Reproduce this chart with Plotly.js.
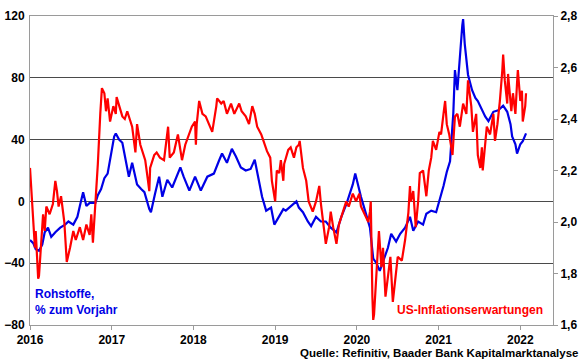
<!DOCTYPE html>
<html>
<head>
<meta charset="utf-8">
<script src="https://cdn.plot.ly/plotly-3.0.1.min.js"></script>
<style>
html,body{margin:0;padding:0;background:#fff;}
#chart{width:580px;height:359px;}
</style>
</head>
<body>
<div id="chart"></div>
<script>
// Rohstoffe, % zum Vorjahr (left axis) — x in decimal years
const rohX = [2016.00,2016.04,2016.07,2016.11,2016.15,2016.18,2016.22,2016.26,2016.31,2016.37,2016.43,2016.47,2016.53,2016.58,2016.61,2016.65,2016.69,2016.73,2016.80,2016.83,2016.87,2016.91,2016.95,2016.99,2017.03,2017.05,2017.09,2017.13,2017.16,2017.21,2017.25,2017.31,2017.36,2017.40,2017.46,2017.48,2017.53,2017.58,2017.62,2017.68,2017.74,2017.79,2017.84,2017.88,2017.95,2018.02,2018.09,2018.17,2018.25,2018.31,2018.35,2018.41,2018.47,2018.52,2018.58,2018.64,2018.70,2018.75,2018.80,2018.84,2018.89,2018.95,2018.99,2019.05,2019.10,2019.13,2019.19,2019.26,2019.29,2019.34,2019.40,2019.44,2019.50,2019.56,2019.62,2019.68,2019.75,2019.81,2019.87,2019.90,2019.95,2019.98,2020.01,2020.05,2020.10,2020.16,2020.20,2020.24,2020.28,2020.32,2020.38,2020.42,2020.48,2020.53,2020.59,2020.65,2020.69,2020.75,2020.81,2020.85,2020.91,2020.97,2021.02,2021.06,2021.10,2021.14,2021.18,2021.20,2021.23,2021.24,2021.26,2021.29,2021.30,2021.32,2021.36,2021.41,2021.45,2021.48,2021.53,2021.57,2021.61,2021.67,2021.73,2021.79,2021.84,2021.88,2021.90,2021.94,2021.96,2022.00,2022.03,2022.07];
const rohY = [-25,-27,-31,-32,-28,-20,-17,-23,-20,-17,-15,-13,-15,-10,-3,6,-3,-1,-1,4,8,15,18,30,42,44,40,38,29,16,25,11,8,6,-5,-7,5,16,3,14,9,15,22,16,7,16,7,16,18,26,31,25,34,29,22,20,21,27,13,3,-6,-4,-15,-10,-5,-6,-3,0,-4,-7,-13,-16,-10,-13,-13,-17,-20,-10,-2,3,11,18,11,3,-6,-17,-37,-40,-45,-39,-30,-21,-26,-21,-17,-10,-19,-13,-15,-8,-6,-7,2,10,19,26,57,85,72,78,93,114,118,102,82,72,67,65,59,55,52,58,59,62,58,50,42,37,31,37,39,44];

// US-Inflationserwartungen (right axis)
const infX = [2016.00,2016.02,2016.04,2016.06,2016.07,2016.10,2016.11,2016.13,2016.16,2016.18,2016.20,2016.24,2016.28,2016.31,2016.33,2016.35,2016.38,2016.42,2016.45,2016.49,2016.53,2016.56,2016.61,2016.65,2016.69,2016.73,2016.75,2016.77,2016.80,2016.81,2016.83,2016.86,2016.87,2016.88,2016.91,2016.93,2016.95,2016.98,2017.02,2017.05,2017.06,2017.10,2017.13,2017.16,2017.19,2017.22,2017.25,2017.29,2017.31,2017.35,2017.41,2017.44,2017.46,2017.47,2017.52,2017.55,2017.59,2017.64,2017.69,2017.71,2017.76,2017.81,2017.86,2017.90,2017.95,2017.98,2018.02,2018.03,2018.04,2018.07,2018.11,2018.15,2018.19,2018.23,2018.28,2018.29,2018.34,2018.37,2018.41,2018.46,2018.50,2018.56,2018.59,2018.64,2018.68,2018.72,2018.75,2018.78,2018.83,2018.86,2018.90,2018.94,2018.96,2019.00,2019.02,2019.05,2019.07,2019.10,2019.11,2019.16,2019.19,2019.23,2019.26,2019.29,2019.30,2019.34,2019.38,2019.41,2019.46,2019.50,2019.54,2019.56,2019.60,2019.62,2019.66,2019.68,2019.71,2019.75,2019.78,2019.83,2019.87,2019.90,2019.95,2019.99,2020.03,2020.05,2020.10,2020.14,2020.16,2020.17,2020.19,2020.20,2020.21,2020.24,2020.27,2020.30,2020.32,2020.35,2020.38,2020.41,2020.44,2020.47,2020.50,2020.55,2020.59,2020.63,2020.65,2020.66,2020.69,2020.71,2020.72,2020.75,2020.77,2020.81,2020.85,2020.88,2020.91,2020.93,2020.97,2021.01,2021.03,2021.06,2021.08,2021.10,2021.13,2021.17,2021.18,2021.20,2021.23,2021.26,2021.30,2021.34,2021.36,2021.40,2021.42,2021.46,2021.48,2021.51,2021.53,2021.54,2021.59,2021.63,2021.67,2021.69,2021.72,2021.75,2021.78,2021.79,2021.81,2021.84,2021.85,2021.89,2021.91,2021.94,2021.96,2021.97,2022.00,2022.02,2022.03,2022.06,2022.07];
const infY = [2.21,2.10,2.03,1.90,1.965,1.78,1.79,1.876,2.03,1.965,2.06,2.03,2.07,2.16,2.12,2.06,2.10,2.00,1.845,1.90,1.965,1.93,1.98,1.93,1.99,1.95,2.03,1.92,2.07,2.11,2.225,2.42,2.51,2.52,2.50,2.43,2.48,2.39,2.45,2.42,2.485,2.44,2.41,2.40,2.43,2.40,2.37,2.27,2.38,2.30,2.24,2.17,2.12,2.21,2.26,2.27,2.25,2.24,2.37,2.25,2.27,2.34,2.24,2.30,2.34,2.37,2.39,2.30,2.38,2.47,2.42,2.41,2.38,2.35,2.45,2.48,2.46,2.47,2.42,2.46,2.42,2.46,2.43,2.41,2.38,2.45,2.42,2.37,2.34,2.31,2.275,2.25,2.16,2.08,2.20,2.19,2.24,2.16,2.225,2.28,2.29,2.25,2.29,2.30,2.315,2.21,2.16,2.08,2.04,2.08,2.14,2.07,1.98,1.915,1.98,2.04,1.98,1.915,1.99,2.04,2.08,2.06,2.11,2.08,2.11,2.06,2.03,2.00,2.04,2.08,1.71,1.62,1.64,1.80,1.965,1.825,1.90,1.71,1.80,1.865,1.69,1.775,1.865,1.85,1.93,2.035,2.14,2.08,2.12,2.03,1.98,2.08,2.19,2.20,2.10,2.20,2.25,2.315,2.28,2.35,2.34,2.42,2.47,2.38,2.34,2.26,2.315,2.41,2.42,2.37,2.46,2.42,2.55,2.45,2.35,2.42,2.26,2.21,2.29,2.20,2.37,2.34,2.42,2.315,2.38,2.47,2.59,2.65,2.55,2.46,2.575,2.43,2.50,2.42,2.54,2.59,2.47,2.51,2.39,2.45,2.50];

const xTicks = [2016,2017,2018,2019,2020,2021,2022];
const xTickText = ['2016','2017','2018','2019','2020','2021','2022'];
const yLeftTicks = [-80,-40,0,40,80,120];
const yRightTicks = [1.6,1.8,2.0,2.2,2.4,2.6,2.8];
const yRightText = ['1,6','1,8','2,0','2,2','2,4','2,6','2,8'];

const FONT = 'Liberation Sans, Arial, sans-serif';
const tickFont = {family: FONT, size: 12, color: '#000', weight: 'bold'};

const traces = [
  {x: rohX, y: rohY, type: 'scatter', mode: 'lines', name: 'Rohstoffe',
   line: {color: '#0000e6', width: 2.2}, yaxis: 'y'},
  {x: infX, y: infY, type: 'scatter', mode: 'lines', name: 'US-Inflationserwartungen',
   line: {color: '#ff0000', width: 2.2}, yaxis: 'y2'}
];

const layout = {
  width: 580, height: 359,
  margin: {l: 30, r: 27, t: 16, b: 34},
  paper_bgcolor: '#fff', plot_bgcolor: '#fff',
  showlegend: false,
  font: {family: FONT, size: 12, color: '#000'},
  xaxis: {
    range: [2016, 2022.40], tickvals: xTicks, ticktext: xTickText,
    showgrid: false, zeroline: false,
    showline: true, linecolor: '#9a9a9a', linewidth: 1, mirror: true,
    ticks: 'outside', ticklen: 4, tickcolor: '#9a9a9a',
    tickfont: tickFont
  },
  yaxis: {
    range: [-80, 120], tickvals: yLeftTicks,
    showgrid: true, gridcolor: '#4a4a4a', gridwidth: 1,
    zeroline: false, showline: true, linecolor: '#9a9a9a', linewidth: 1,
    ticks: '', tickfont: tickFont, ticklabelstandoff: 2
  },
  yaxis2: {
    range: [1.6, 2.8], tickvals: yRightTicks, ticktext: yRightText,
    overlaying: 'y', side: 'right', showgrid: false, zeroline: false,
    showline: true, linecolor: '#9a9a9a', linewidth: 1,
    ticks: 'outside', ticklen: 4, tickcolor: '#9a9a9a',
    tickfont: tickFont
  },
  annotations: [
    {xref: 'paper', yref: 'paper', x: 0.006, y: 0.02, xanchor: 'left', yanchor: 'bottom', align: 'left',
     text: 'Rohstoffe,<br>% zum Vorjahr', showarrow: false,
     font: {family: FONT, size: 12, color: '#0000e6', weight: 'bold'}},
    {xref: 'paper', yref: 'paper', x: 0.985, y: 0.02, xanchor: 'right', yanchor: 'bottom',
     text: 'US-Inflationserwartungen', showarrow: false,
     font: {family: FONT, size: 12, color: '#ff0000', weight: 'bold'}},
    {xref: 'paper', yref: 'paper', x: 1.05, y: -0.112, xanchor: 'right', yanchor: 'bottom',
     text: 'Quelle: Refinitiv, Baader Bank Kapitalmarktanalyse', showarrow: false, borderpad: 0,
     font: {family: FONT, size: 11.5, color: '#000', weight: 'bold'}}
  ]
};

Plotly.newPlot('chart', traces, layout, {displayModeBar: false, staticPlot: true});
</script>
</body>
</html>
